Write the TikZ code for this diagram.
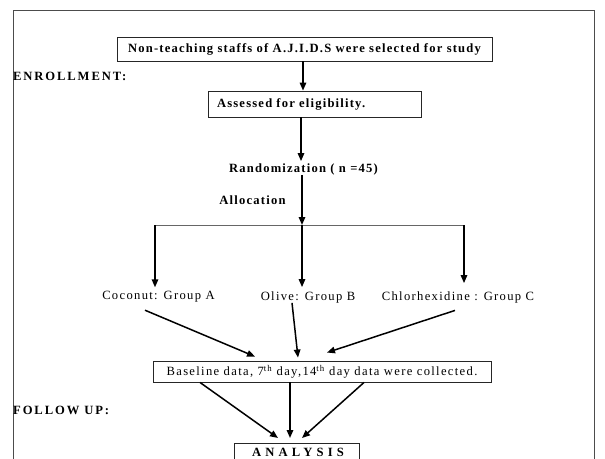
\documentclass[tikz,border=0pt]{standalone}
\usepackage{fontspec}
\setmainfont{Liberation Serif}
\newfontfamily\hdfont[LetterSpace=15]{Liberation Serif}
\newfontfamily\bdfont[LetterSpace=9.5]{Liberation Serif}
\newfontfamily\rgfont[LetterSpace=10.5]{Liberation Serif}
\newfontfamily\anfont[LetterSpace=33]{Liberation Serif}
\usetikzlibrary{arrows.meta}
\begin{document}
\begin{tikzpicture}[x=1pt,y=-1pt,
  hb/.style={font=\hdfont\bfseries\fontsize{12.6}{14}\selectfont},
  bb/.style={font=\bdfont\bfseries\fontsize{12.6}{14}\selectfont},
  ab/.style={font=\anfont\bfseries\fontsize{12.6}{14}\selectfont},
  rr/.style={font=\rgfont\fontsize{12.6}{14}\selectfont},
  box/.style={draw=black!85, line width=0.9pt, inner sep=0pt, align=center},
  arr/.style={line width=1.5pt, -{Triangle[length=8pt,width=6.5pt]}},
  thinl/.style={draw=black!60, line width=0.9pt},
  frame/.style={draw=black!70, line width=1pt}]
\useasboundingbox (0,0) rectangle (605,458);
\draw[frame] (13,470) -- (13,10) -- (594,10) -- (594,470);

\node[box, bb, minimum width=375pt, minimum height=24pt] (b1) at (304.5,49) {Non-teaching staffs of A.J.I.D.S were selected for study};
\node[hb, anchor=west, inner sep=0pt] (enr) at (13,76) {ENROLLMENT:};
\node[box, bb, minimum height=26pt, text width=195pt, inner xsep=9pt, align=left] (b2) at (314.5,104) {Assessed for eligibility.};
\node[bb, inner sep=0pt] (rand) at (303.5,169) {Randomization ( n =45)};
\node[bb, inner sep=0pt] (alloc) at (252.5,200) {Allocation};
\coordinate (jl) at (155,225);
\coordinate (jc) at (302,225);
\coordinate (jr) at (464,225);
\node[rr, inner sep=0pt] (ga) at (158.5,297) {Coconut: Group A};
\node[rr, inner sep=0pt] (gb) at (308,297) {Olive: Group B};
\node[rr, inner sep=0pt] (gc) at (458,297) {Chlorhexidine : Group C};
\node[box, rr, minimum width=338pt, minimum height=21pt] (base) at (322,371.5) {Baseline data, 7\textsuperscript{th} day,14\textsuperscript{th} day data were collected.};
\node[hb, anchor=west, inner sep=0pt] (fu) at (13,410) {FOLLOW UP:};
\node[box, minimum width=125pt, minimum height=32pt, anchor=north] (an) at (296.5,443) {};
\node[ab, anchor=west, inner sep=0pt] (antxt) at (252,452.8) {ANALYSIS};

\draw[arr] ([xshift=-1.5pt]b1.south) -- ([xshift=-1.5pt]b1.south |- b2.north);
\draw[arr] ([xshift=-2.5pt]rand.north |- b2.south) -- ([xshift=-2.5pt,yshift=2pt]rand.north);
\draw[arr] ([xshift=-1.5pt]rand.south) -- (jc);
\draw[thinl] (jl) -- (jr);
\draw[arr, shorten >=4pt] (jl) -- (jl |- ga.north);
\draw[arr, shorten >=4pt] (jc) -- (jc |- gb.north);
\draw[arr, shorten >=8pt] (jr) -- (jr |- gc.north);

\draw[arr] ([xshift=-13.5pt,yshift=-7.5pt]ga.south) -- ([xshift=-67pt,yshift=4pt]base.north);
\draw[arr] ([xshift=-16pt]gb.south) -- ([xshift=-24pt,yshift=3pt]base.north);
\draw[arr] ([xshift=-3pt,yshift=-7.5pt]gc.south) -- ([xshift=5pt,yshift=8pt]base.north);

\draw[arr] ([xshift=-122pt]base.south) -- ([xshift=-18.5pt,yshift=5pt]an.north);
\draw[arr] ([xshift=-32pt]base.south) -- ([xshift=-6.5pt,yshift=5pt]an.north);
\draw[arr] ([xshift=42pt]base.south) -- ([xshift=5.5pt,yshift=5pt]an.north);
\end{tikzpicture}
\end{document}
